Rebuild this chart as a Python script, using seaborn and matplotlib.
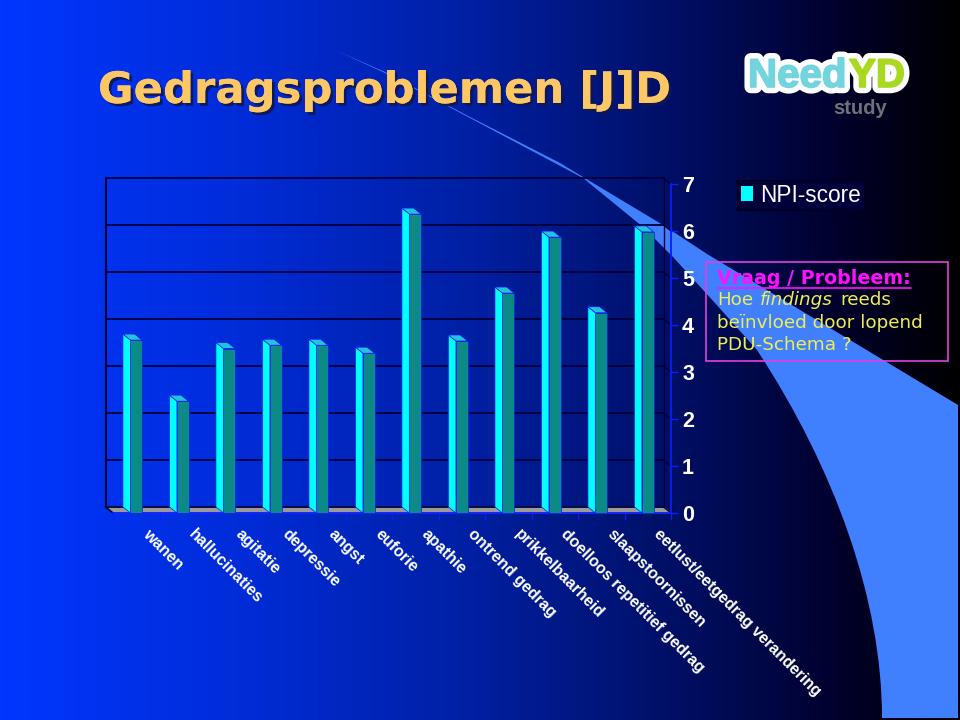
import numpy as np
import matplotlib
matplotlib.use("Agg")
import matplotlib.pyplot as plt
import matplotlib.patheffects as pe
from matplotlib.colors import LinearSegmentedColormap
from matplotlib.patches import Patch, PathPatch, Rectangle
from matplotlib.path import Path
from matplotlib.transforms import ScaledTranslation
import seaborn as sns
import pandas as pd

categories = ["wanen", "hallucinaties", "agitatie", "depressie", "angst", "euforie",
              "apathie", "ontrend gedrag", "prikkelbaarheid",
              "doelloos repetitief gedrag", "slaapstoornissen",
              "eetlust/eetgedrag verandering"]
npi_score = [3.68, 2.38, 3.5, 3.57, 3.57, 3.4, 6.36, 3.66, 4.68, 5.87, 4.26, 5.98]
y_ticks = [0, 1, 2, 3, 4, 5, 6, 7]

sns.set_theme(style="white")
plt.rcParams["font.family"] = ["Liberation Sans", "DejaVu Sans"]

fig = plt.figure(figsize=(9.6, 7.2), dpi=100)

# slide background, in pixel coordinates
bg = fig.add_axes([0, 0, 1, 1], zorder=0)
bg.set_xlim(0, 960)
bg.set_ylim(720, 0)
bg.axis("off")
cmap = LinearSegmentedColormap.from_list(
    "slide", [(0, "#0036ff"), (0.25, "#002cd8"), (0.5, "#001fa0"),
              (0.72, "#000e60"), (0.88, "#00002a"), (1, "#000000")])
bg.imshow(np.linspace(0, 1, 960)[None, :], extent=(0, 960, 720, 0), cmap=cmap,
          aspect="auto", zorder=0)
L_ = Path.LINETO
C_ = Path.CURVE4
swoosh = Path(
    [(335, 50), (385, 72), (470, 117), (560, 163), (583, 177), (663, 225),
     (707, 254), (855, 343), (958, 405), (958, 718), (882, 718),
     (882, 600), (835, 469), (757, 350),
     (715, 303), (673, 257), (643, 227), (583, 178), (470, 118), (385, 73), (335, 50)],
    [Path.MOVETO, L_, L_, L_, L_, L_, L_, L_, L_, L_, L_,
     C_, C_, C_,
     L_, L_, L_, L_, L_, L_, L_])
bg.add_patch(PathPatch(swoosh, facecolor="#4080ff", edgecolor="none", zorder=1))

# title
bg.text(98, 103, "Gedragsproblemen [J]D", color="#fdc766", fontsize=31.2,
        fontweight="bold", family="DejaVu Sans", va="baseline", ha="left", zorder=3,
        path_effects=[pe.withSimplePatchShadow(offset=(2, -2), shadow_rgbFace="#101850", alpha=0.9),
                      pe.Normal()])

# logo
halo = [pe.withStroke(linewidth=9, foreground="white")]
fat = [pe.withStroke(linewidth=1.2, foreground="#72d4dc")]
fat2 = [pe.withStroke(linewidth=1.2, foreground="#a8d820")]
logo = dict(fontsize=29, fontweight="bold", va="center", ha="left")
bg.text(748, 76, "Need", color="white", zorder=3, path_effects=halo, **logo)
bg.text(849, 76, "YD", color="white", zorder=3, path_effects=halo, **logo)
bg.text(748, 76, "Need", color="#72d4dc", zorder=3.5, path_effects=fat, **logo)
bg.text(849, 76, "YD", color="#a8d820", zorder=3.5, path_effects=fat2, **logo)
bg.text(833, 109, "study", color="#6e7276", fontsize=14.5, fontweight="bold",
        va="center", ha="left", zorder=3)

# question box
bg.add_patch(Rectangle((706, 262), 242, 99, facecolor="none", edgecolor="#e040e0",
                       linewidth=1.2, zorder=4))
box_font = dict(family="DejaVu Sans", va="center", ha="left", zorder=5)
bg.text(717, 279, "Vraag / Probleem:", color="#ff10ff", fontweight="bold", fontsize=13.7, **box_font)
bg.plot([717, 911], [287.5, 287.5], color="#ff10ff", lw=1.2, zorder=5)
bg.text(717, 300, "Hoe", color="#eeee55", fontsize=13.2, **box_font)
bg.text(760, 300, "findings", color="#eeee55", style="italic", fontsize=13.2, **box_font)
bg.text(840, 300, "reeds", color="#eeee55", fontsize=13.2, **box_font)
bg.text(717, 323, "beïnvloed door lopend", color="#eeee55", fontsize=13.2, **box_font)
bg.text(717, 345, "PDU-Schema ?", color="#eeee55", fontsize=13.2, **box_font)

# chart: axes cover the front plane of the 3D box
L, R, B, T = 113, 671, 513, 184
ax = fig.add_axes([L / 960, 1 - B / 720, (R - L) / 960, (B - T) / 720], zorder=2)
ax.patch.set_alpha(0)
df = pd.DataFrame({"categorie": categories, "NPI-score": npi_score})
bar_w = 0.25
edge = "#0a1cff"
sns.barplot(data=df, x="categorie", y="NPI-score", ax=ax, color="#0b8a88", width=bar_w,
            saturation=1, edgecolor=edge, linewidth=0.5, zorder=4)
ax.set_xlim(-0.5, 11.5)
ax.set_ylim(0, 7)
ax.set_xlabel("")
ax.set_ylabel("")

dx = -7.5 / ((R - L) / 12)   # depth of the 3D box, data units
dy = 6 / ((B - T) / 7)
# back wall and floor
ax.fill([-0.5, 11.5, 11.5 + dx, -0.5 + dx], [0, 0, dy, dy], color="#9a9a9a", zorder=1,
        clip_on=False)
wall = "#00003a"
for v in y_ticks:
    ax.plot([-0.5 + dx, 11.5 + dx], [v + dy, v + dy], color=wall, lw=1.3, zorder=2, clip_on=False)
    ax.plot([11.5 + dx, 11.5], [v + dy, v], color=wall, lw=1.0, zorder=2, clip_on=False)
ax.plot([-0.5 + dx, -0.5 + dx], [dy, 7 + dy], color=wall, lw=1.5, zorder=2, clip_on=False)
ax.plot([11.5 + dx, 11.5 + dx], [dy, 7 + dy], color=wall, lw=1.0, zorder=2, clip_on=False)
ax.plot([-0.5 + dx, -0.5], [dy, 0], color=wall, lw=1.3, zorder=2, clip_on=False)
# bar side and top faces
for i, v in enumerate(npi_score):
    x0, x1 = i - bar_w / 2, i + bar_w / 2
    ax.fill([x0, x0, x0 + dx, x0 + dx], [0, v, v + dy, dy], facecolor="#00ffff", edgecolor=edge,
            lw=0.5, zorder=5, clip_on=False)
    ax.fill([x0, x1, x1 + dx, x0 + dx], [v, v, v + dy, v + dy], facecolor="#22c4dc", edgecolor=edge,
            lw=0.5, zorder=5, clip_on=False)

for s in ["top", "left"]:
    ax.spines[s].set_visible(False)
for s in ["bottom", "right"]:
    ax.spines[s].set_visible(True)
    ax.spines[s].set_color(edge)
    ax.spines[s].set_linewidth(1.3)
ax.yaxis.tick_right()
ax.set_yticks(y_ticks)
ax.set_yticklabels([str(v) for v in y_ticks], fontweight="bold")
ax.tick_params(axis="y", length=5, width=1, color=edge, labelcolor="white",
               labelsize=15.5, pad=3, right=True, left=False)
ax.set_xticks(range(len(categories)))
ax.set_xticklabels(categories)
ax.tick_params(axis="x", which="major", length=0, pad=9.5, labelcolor="white", labelsize=11.5)
ax.set_xticks(np.arange(-0.5, 12, 1), minor=True)
ax.tick_params(axis="x", which="minor", length=5, width=0.9, color=edge, bottom=True)
shift = ScaledTranslation(14 / 100, 0, fig.dpi_scale_trans)
for lab in ax.get_xticklabels():
    lab.set_rotation(-45)
    lab.set_rotation_mode("anchor")
    lab.set_ha("left")
    lab.set_va("top")
    lab.set_fontweight("bold")
    lab.set_transform(lab.get_transform() + shift)

leg = fig.legend(handles=[Patch(facecolor="#00ffff", edgecolor="none", label="NPI-score")],
                 loc="center left", bbox_to_anchor=(726 / 960, 1 - 195 / 720), frameon=True,
                 facecolor="#00003a", edgecolor="#000018", fancybox=False,
                 fontsize=16.3, handlelength=0.55, handleheight=0.6, handletextpad=0.3,
                 borderpad=0.15, labelcolor="white", framealpha=1)
leg.set_zorder(6)

fig.savefig("out.png", dpi=100)
